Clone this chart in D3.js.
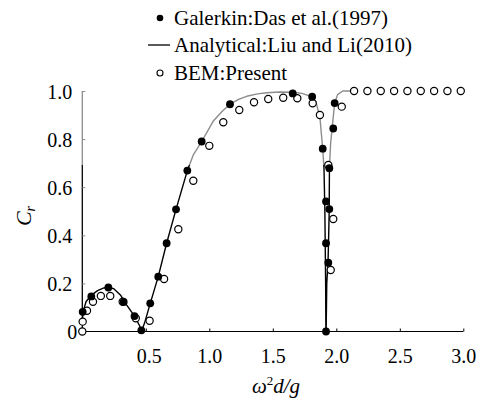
<!DOCTYPE html>
<html><head><meta charset="utf-8">
<script src="https://cdn.jsdelivr.net/npm/d3@7"></script>
<style>
html,body{margin:0;padding:0;background:#fff;}
svg{display:block;}
</style></head>
<body><svg id="c" width="483" height="401"></svg>
<script>
// Galerkin: Das et al. (1997) — filled dots
const galerkinX = [0.003,0.071,0.205,0.326,0.411,0.465,0.535,0.598,0.664,0.738,0.827,0.94,1.163,1.657,1.81,1.893,1.919,1.919,1.919,1.937,1.945,1.945,1.976,1.987];
const galerkinY = [0.082,0.146,0.183,0.123,0.064,0.005,0.117,0.228,0.367,0.508,0.669,0.79,0.945,0.99,0.976,0.76,0.541,0.367,0.0,0.286,0.509,0.679,0.844,0.95];
// Analytical: Liu and Li (2010) — solid line
const analyticX = [0.0,0.01,0.03,0.07,0.12,0.17,0.21,0.25,0.30,0.35,0.41,0.45,0.468,0.49,0.535,0.598,0.664,0.738,0.827,0.874,0.94,1.03,1.10,1.163,1.23,1.294,1.38,1.452,1.55,1.657,1.73,1.80,1.84,1.871,1.893,1.903,1.91,1.913,1.916,1.918,1.92,1.925,1.935,1.94,1.944,1.946,1.955,1.968,1.987,2.01,2.05,2.134];
const analyticY = [0.05,0.09,0.125,0.15,0.17,0.181,0.184,0.177,0.152,0.11,0.065,0.025,0.003,0.035,0.117,0.228,0.367,0.508,0.669,0.734,0.79,0.874,0.915,0.945,0.965,0.978,0.988,0.993,0.996,0.995,0.99,0.978,0.955,0.89,0.76,0.68,0.5,0.35,0.2,0.0,0.0,0.2,0.29,0.4,0.5,0.68,0.78,0.85,0.95,0.985,1.0,1.0];
// BEM: Present — open circles
const bemX = [0.0,0.003,0.037,0.084,0.146,0.22,0.318,0.421,0.53,0.644,0.756,0.874,1.0,1.11,1.236,1.352,1.464,1.582,1.693,1.814,1.871,1.937,1.956,1.976,2.043,2.14,2.245,2.35,2.455,2.56,2.665,2.77,2.875,2.98];
const bemY = [0.0,0.041,0.086,0.124,0.148,0.148,0.124,0.055,0.045,0.218,0.425,0.627,0.772,0.87,0.921,0.953,0.967,0.972,0.970,0.949,0.900,0.692,0.256,0.468,0.935,1.0,1.0,1.0,1.0,1.0,1.0,1.0,1.0,1.0];
const xTicks = [0.5,1.0,1.5,2.0,2.5,3.0];
const xTickLabels = ["0.5","1.0","1.5","2.0","2.5","3.0"];
const yTicks = [0,0.2,0.4,0.6,0.8,1.0];
const yTickLabels = ["0","0.2","0.4","0.6","0.8","1.0"];
const legendLabels = ["Galerkin:Das et al.(1997)","Analytical:Liu and Li(2010)","BEM:Present"];

const FONT = "Times";
const svg = d3.select("#c");
const x = d3.scaleLinear().domain([0,3]).range([82.3,463.3]);
const y = d3.scaleLinear().domain([0,1]).range([331.5,91]);

// legend first
const ly = [18,45,73];
const lg = svg.append("g");
lg.selectAll("text").data(legendLabels).join("text")
  .attr("x",174).attr("y",(d,i)=>ly[i]).attr("dy","0.35em").attr("font-family",FONT).attr("font-size",21).text(d=>d);
lg.append("circle").attr("cx",160).attr("cy",ly[0]).attr("r",3.3).attr("fill","#000");
lg.append("line").attr("x1",148).attr("x2",170).attr("y1",ly[1]).attr("y2",ly[1]).attr("stroke","#000").attr("stroke-width",1.3);
lg.append("circle").attr("cx",160).attr("cy",ly[2]).attr("r",3).attr("fill","#fff").attr("stroke","#000").attr("stroke-width",1.1);

const defs = svg.append("defs");
const g = defs.append("linearGradient").attr("id","band").attr("gradientUnits","userSpaceOnUse")
  .attr("x1",0).attr("y1",0).attr("x2",0).attr("y2",401);
g.append("stop").attr("offset",165/401).attr("stop-color","#8c8c8c");
g.append("stop").attr("offset",165/401).attr("stop-color","#000");

// axes
const xAxis = d3.axisBottom(x).tickValues(xTicks).tickSizeInner(-3).tickSizeOuter(0).tickFormat((d,i)=>xTickLabels[i]);
const gx = svg.append("g").attr("transform",`translate(0,${y(0)})`).call(xAxis);
gx.attr("font-family",FONT).attr("font-size",20);
gx.select(".domain").attr("stroke","#000").attr("stroke-width",1.2).attr("d",`M${x(0)-1},0H${x(3)}`);
gx.selectAll(".tick line").attr("stroke","#000");
gx.selectAll(".tick text").attr("dy",null).attr("y",31).attr("dx",(d)=>d===0.5?3:0);

const yAxis = d3.axisLeft(y).tickValues(yTicks).tickSizeInner(-3).tickSizeOuter(0).tickFormat((d,i)=>yTickLabels[i]);
const gy = svg.append("g").attr("transform",`translate(${x(0)},0)`).call(yAxis);
gy.attr("font-family",FONT).attr("font-size",20);
gy.select(".domain").attr("stroke","url(#band)").attr("stroke-width",1.3).attr("d",`M0,${y(0)}V${y(1)}`);
gy.selectAll(".tick line").attr("stroke","url(#band)");
gy.selectAll(".tick text").attr("x",(d)=>d===0?-5:-10).attr("dy","0.36em");

// analytical line
const lineData = analyticX.map((v,i)=>[v,analyticY[i]]);
svg.append("path").datum(lineData)
  .attr("fill","none").attr("stroke","url(#band)").attr("stroke-width",1.4).attr("stroke-linejoin","round")
  .attr("d",d3.line().x(d=>x(d[0])).y(d=>y(d[1])).curve(d3.curveLinear));

// BEM open circles
svg.append("g").selectAll("circle").data(bemX.map((v,i)=>[v,bemY[i]])).join("circle")
  .attr("cx",d=>x(d[0])).attr("cy",d=>y(d[1])).attr("r",3.6)
  .attr("fill","#fff").attr("stroke","#000").attr("stroke-width",1.2);

// Galerkin filled dots
svg.append("g").selectAll("circle").data(galerkinX.map((v,i)=>[v,galerkinY[i]])).join("circle")
  .attr("cx",d=>x(d[0])).attr("cy",d=>y(d[1])).attr("r",3.9).attr("fill","#000");

// axis titles
const yl = svg.append("text").attr("transform","translate(31,216) rotate(-90)")
  .attr("text-anchor","middle").attr("font-size",22).attr("font-style","italic").attr("font-family",FONT);
yl.append("tspan").text("C");
yl.append("tspan").attr("font-size",14).attr("dy",4).text("r");

const xl = svg.append("text").attr("x",276).attr("y",393).attr("text-anchor","middle")
  .attr("font-size",21).attr("font-style","italic").attr("font-family",FONT);
xl.append("tspan").text("ω");
xl.append("tspan").attr("font-size",13).attr("dy",-8).attr("font-style","normal").text("2");
xl.append("tspan").attr("dy",8).text("d/g");
</script></body></html>
